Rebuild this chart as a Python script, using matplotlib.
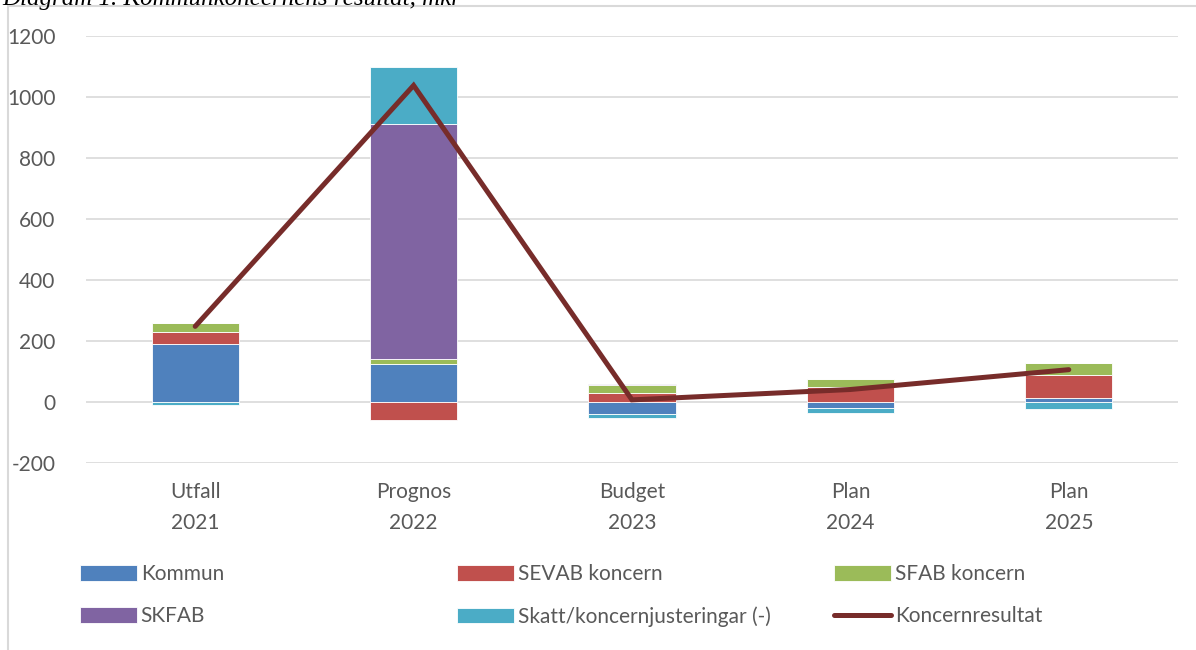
import numpy as np
import matplotlib.pyplot as plt
from matplotlib.patches import Rectangle

# categories and series (mkr)
categories = ['Utfall\n2021', 'Prognos\n2022', 'Budget\n2023', 'Plan\n2024', 'Plan\n2025']
kommun = [190, 125, -40, -20, 12]
sevab = [40, -59, 30, 48, 77]
sfab = [28, 15, 27, 26, 38]
skfab = [0, 773, 2, 2, 2]
skatt = [-10, 184, -12, -15, -23]
koncernresultat = [248, 1038, 7, 41, 106]

series = [
    ('Kommun', kommun, '#4F81BD'),
    ('SEVAB koncern', sevab, '#C0504D'),
    ('SFAB koncern', sfab, '#9BBB59'),
    ('SKFAB', skfab, '#8064A2'),
    ('Skatt/koncernjusteringar (-)', skatt, '#4BACC6'),
]

plt.rcParams['font.family'] = ['Lato', 'DejaVu Sans']
plt.rcParams['axes.unicode_minus'] = False
text_col = '#595959'

fig = plt.figure(figsize=(11.96, 6.5), dpi=100)
ax = fig.add_axes([86 / 1196, 1 - 463 / 650, (1178 - 86) / 1196, (463 - 36) / 650])

x = np.arange(len(categories))
pos_bottom = np.zeros(len(categories))
neg_bottom = np.zeros(len(categories))
handles = {}
for name, vals, col in series:
    vals = np.array(vals, dtype=float)
    bottom = np.where(vals >= 0, pos_bottom, neg_bottom)
    b = ax.bar(x, vals, 0.4, bottom=bottom, color=col, edgecolor='white',
               linewidth=0.6, zorder=2, label=name)
    handles[name] = b
    pos_bottom += np.where(vals >= 0, vals, 0)
    neg_bottom += np.where(vals < 0, vals, 0)

line, = ax.plot(x, koncernresultat, color='#772C2A', lw=3.6,
                solid_capstyle='round', solid_joinstyle='miter', zorder=3,
                label='Koncernresultat')
handles['Koncernresultat'] = line

ax.set_xlim(-0.5, len(categories) - 0.5)
ax.set_ylim(-200, 1200)
ax.set_yticks(range(-200, 1201, 200))
ax.yaxis.grid(True, color='#D9D9D9', lw=1.2, zorder=0)
ax.set_axisbelow(True)
for s in ax.spines.values():
    s.set_visible(False)
ax.tick_params(length=0, labelsize=15, colors=text_col)
ax.tick_params(axis='y', pad=22)
ax.tick_params(axis='x', pad=14)
ax.set_xticks(x)
ax.set_xticklabels(categories, linespacing=1.65)

# legend in three columns, placed like the original
cols = [['Kommun', 'SKFAB'],
        ['SEVAB koncern', 'Skatt/koncernjusteringar (-)'],
        ['SFAB koncern', 'Koncernresultat']]
for i, names in enumerate(cols):
    leg = fig.legend([handles[n] for n in names], names,
                     loc='upper left', bbox_to_anchor=((72 + i * 377) / 1196, 1 - 556 / 650),
                     frameon=False, fontsize=15, handlelength=2.7, handleheight=0.75,
                     handletextpad=0.2, labelspacing=1.05, borderaxespad=0)
    for t in leg.get_texts():
        t.set_color(text_col)

# chart frame and the clipped caption above it
fig.patches.append(Rectangle((8 / 1196, -0.05), 1.2, 1 - 6 / 650 + 0.05,
                             transform=fig.transFigure, fill=False,
                             edgecolor='#D9D9D9', lw=1.5))
fig.text(0.002, 1 - 5 / 650, 'Diagram 1. Kommunkoncernens resultat, mkr',
         family='Liberation Serif', style='italic', fontsize=18, va='baseline')

fig.savefig('out.png', dpi=100)
